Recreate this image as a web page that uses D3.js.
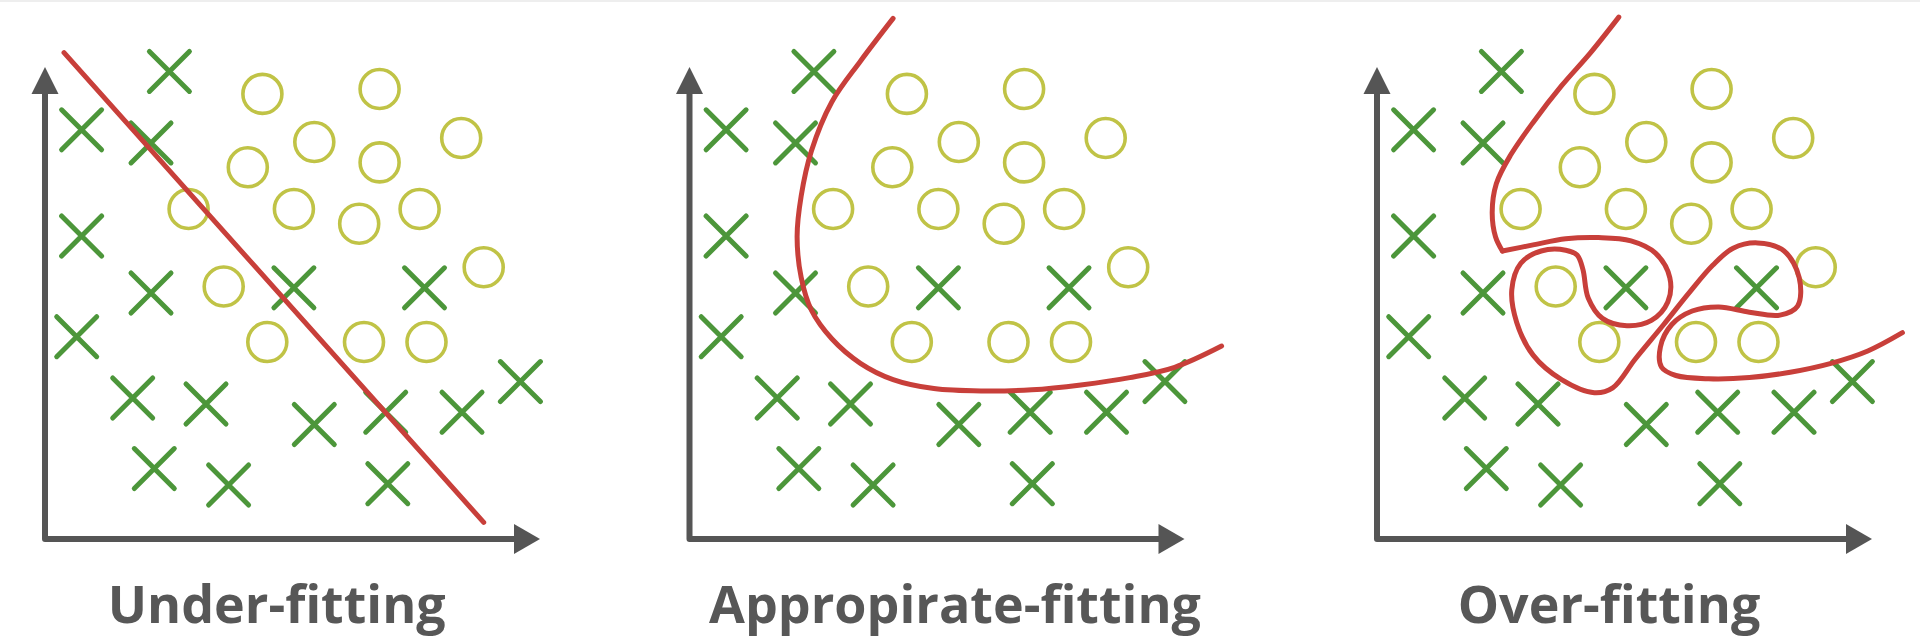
<!DOCTYPE html>
<html>
<head>
<meta charset="utf-8">
<script src="https://cdn.jsdelivr.net/npm/d3@7"></script>
<style>
  html, body { margin: 0; padding: 0; background: #ffffff; }
  svg { display: block; }
</style>
</head>
<body>
<script>
// ---------- DATA (chart units: x to the right of the y-axis, y above the x-axis) ----------
const panelTitles = ["Under-fitting", "Appropirate-fitting", "Over-fitting"];

// class "x" samples
const crossX = [124.4, 36.6, 106, 36.6, 106, 248.9, 379.5, 31.7, 87.7, 161, 269.3, 340.7, 417, 475.4, 109.3, 183.6, 342.8];
const crossY = [467.6, 409.2, 396.1, 303, 246, 251.2, 251.2, 202.3, 141, 135, 114.5, 126.8, 126.8, 157.4, 70.4, 54, 55.3];

// class "o" samples
const circleX = [217.4, 334.6, 269.3, 416.2, 202.8, 334.6, 143.6, 248.9, 314.2, 374.6, 438.7, 178.7, 222.3, 319, 381.5];
const circleY = [445.1, 450, 397, 401, 371.7, 376.6, 330, 330, 315.3, 330, 271.7, 252.5, 197, 197, 197];

// decision boundaries
const underFitX = [19, 438.7];
const underFitY = [486.3, 16.6];

const goodFitX = [203.6, 170.9, 142.3, 121.9, 111.7, 107.6, 111.7, 121.9, 142.3, 170.9, 203.6, 244.4, 293.4, 342.3, 391.3, 440.3, 485.2, 532.1];
const goodFitY = [520.6, 477.8, 437, 388, 343.1, 302.3, 261.4, 228.8, 200.2, 175.7, 159.4, 150.4, 148, 149.2, 154.1, 161.4, 171.7, 192.9];

// over-fit boundary: first stretch down to the cusp, then the winding part
const overFitAX = [241.8, 213.2, 184.6, 156.1, 133.6, 119.3, 115.2, 118.5, 125.4];
const overFitAY = [521.9, 485.9, 453.3, 416.6, 383.9, 355.3, 326.8, 302.3, 288];
const overFitBX = [125.4, 156.1, 188.7, 221.4, 254, 278.5, 292.8, 290.8, 274.4, 249.9, 225.4, 211.2, 205.9, 200.1, 188.7, 164.2, 143.8, 134.8, 139.7, 156.1, 184.6, 217.3, 235.7, 258.1, 286.7, 311.2, 335.7, 356.1, 380.6, 407.1, 422.2, 420.6, 403, 372.4, 341.8, 315.2, 294.8, 283.4, 284.6, 298.9, 331.6, 372.4, 413.2, 454, 490.8, 525.4];
const overFitBY = [288, 294.1, 300.2, 301.4, 298.2, 285.9, 261.4, 237, 218.6, 213.3, 220.6, 241, 269.6, 283.9, 288.8, 288, 275.7, 249.2, 216.6, 183.9, 159.4, 146.3, 151.2, 179.8, 214.5, 245.1, 273.7, 290.8, 296.1, 288, 261.4, 232.9, 223.9, 226.8, 232.1, 228, 214.5, 192.1, 171.7, 163.5, 160.2, 161.4, 166.8, 175.7, 188, 206.3];

// ---------- LAYOUT & STYLE ----------
const W = 1920, H = 643;
const panelOrigins = [[45, 539], [689.5, 539], [1377, 539]];
const labelOffsets = [231.7, 265.5, 232];
const labelBaseline = 622.5;
const axisXLen = 495, axisYLen = 472;
const colors = { axis: "#555555", cross: "#4c963a", circle: "#c0c346", fit: "#c83f3a", text: "#575757" };

const zip = (xs, ys) => xs.map((x, i) => [x, ys[i]]);
const crosses = zip(crossX, crossY);
const circles = zip(circleX, circleY);
const boundaries = [
  [zip(underFitX, underFitY)],
  [zip(goodFitX, goodFitY)],
  [zip(overFitAX, overFitAY), zip(overFitBX, overFitBY)]
];

const svg = d3.select("body").append("svg").attr("width", W).attr("height", H);
svg.append("rect").attr("width", W).attr("height", H).attr("fill", "#ffffff");
svg.append("rect").attr("width", W).attr("height", 2).attr("fill", "#eeeeee");

panelOrigins.forEach(([ox, oy], p) => {
  const x = d3.scaleLinear().domain([0, axisXLen]).range([ox, ox + axisXLen]);
  const y = d3.scaleLinear().domain([0, axisYLen]).range([oy, oy - axisYLen]);
  const g = svg.append("g");

  // axes
  const headY = 27, headYW = 27, headX = 26, headXW = 30;
  g.append("path")
    .attr("d", d3.line()([[x(0), y(axisYLen) + headY - 1], [x(0), y(0)], [x(axisXLen) - headX + 1, y(0)]]))
    .attr("fill", "none").attr("stroke", colors.axis).attr("stroke-width", 6)
    .attr("stroke-linejoin", "round");
  g.append("path")
    .attr("d", `M${x(0)},${y(axisYLen)} L${x(0) - headYW / 2},${y(axisYLen) + headY} L${x(0) + headYW / 2},${y(axisYLen) + headY} Z`)
    .attr("fill", colors.axis);
  g.append("path")
    .attr("d", `M${x(axisXLen)},${y(0)} L${x(axisXLen) - headX},${y(0) - headXW / 2} L${x(axisXLen) - headX},${y(0) + headXW / 2} Z`)
    .attr("fill", colors.axis);

  // circles
  g.selectAll("circle.o").data(circles).join("circle")
    .attr("cx", d => x(d[0])).attr("cy", d => y(d[1])).attr("r", 19.5)
    .attr("fill", "none").attr("stroke", colors.circle).attr("stroke-width", 3.6);

  // crosses
  const a = 20;
  g.selectAll("path.x").data(crosses).join("path")
    .attr("d", d => {
      const cx = x(d[0]), cy = y(d[1]);
      return `M${cx - a},${cy - a}L${cx + a},${cy + a}M${cx - a},${cy + a}L${cx + a},${cy - a}`;
    })
    .attr("fill", "none").attr("stroke", colors.cross).attr("stroke-width", 5)
    .attr("stroke-linecap", "round");

  // boundary
  const line = d3.line().x(d => x(d[0])).y(d => y(d[1]))
    .curve(p === 0 ? d3.curveLinear : d3.curveCatmullRom.alpha(0.5));
  boundaries[p].forEach(seg => {
    g.append("path").attr("d", line(seg))
      .attr("fill", "none").attr("stroke", colors.fit).attr("stroke-width", 5)
      .attr("stroke-linecap", "round").attr("stroke-linejoin", "round");
  });

  // title
  g.append("text")
    .attr("x", ox + labelOffsets[p]).attr("y", labelBaseline)
    .attr("text-anchor", "middle")
    .attr("font-family", "'Open Sans', sans-serif").attr("font-weight", 700)
    .attr("font-size", 52).attr("fill", colors.text)
    .text(panelTitles[p]);
});
</script>
</body>
</html>
